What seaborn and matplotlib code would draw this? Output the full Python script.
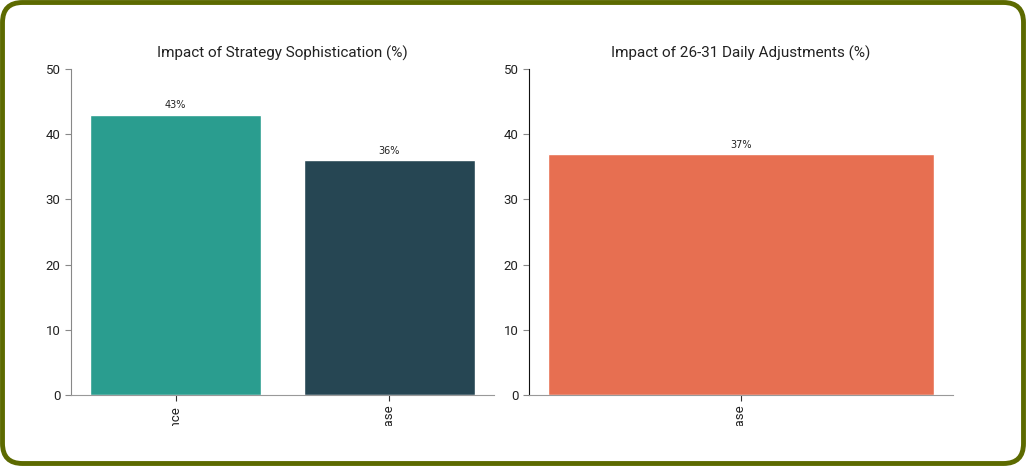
import matplotlib
matplotlib.use("Agg")
import matplotlib.pyplot as plt
import seaborn as sns
import pandas as pd
from matplotlib.patches import FancyBboxPatch
from matplotlib.transforms import Bbox

# data
soph_labels = ["Performance", "Revenue Increase"]
soph_values = [43, 36]
daily_labels = ["Revenue Increase"]
daily_values = [37]

title_left = "Impact of Strategy Sophistication (%)"
title_right = "Impact of 26-31 Daily Adjustments (%)"

sns.set_style("white")
plt.rcParams["font.family"] = ["Roboto", "DejaVu Sans"]

fig = plt.figure(figsize=(10.26, 4.66), dpi=100)
W, H = 1026, 466
ax1 = fig.add_axes([71 / W, 1 - 395 / H, 423 / W, 326 / H])
ax2 = fig.add_axes([529 / W, 1 - 395 / H, 424 / W, 326 / H])

df1 = pd.DataFrame({"cat": soph_labels, "val": soph_values})
df2 = pd.DataFrame({"cat": daily_labels, "val": daily_values})

sns.barplot(data=df1, x="cat", y="val", hue="cat", palette=["#2a9d8f", "#264653"],
            width=0.8, legend=False, ax=ax1, saturation=1)
sns.barplot(data=df2, x="cat", y="val", hue="cat", palette=["#e76f51"],
            width=0.8, legend=False, ax=ax2, saturation=1)

# tick labels are cut off near the bottom, like in the original
clip = Bbox.from_extents(0, 40, W, H)
for ax, title, vals in [(ax1, title_left, soph_values), (ax2, title_right, daily_values)]:
    n = len(vals)
    pad = 0.05 * (n - 0.2)
    ax.set_xlim(-0.4 - pad, n - 0.6 + pad)
    ax.set_ylim(0, 50)
    ax.set_yticks([0, 10, 20, 30, 40, 50])
    ax.set_title(title, fontsize=11, color="#222222", pad=8)
    ax.set_xlabel("")
    ax.set_ylabel("")
    for p in ax.patches:
        h = p.get_height()
        ax.annotate(f"{h:.0f}%", (p.get_x() + p.get_width() / 2, h),
                    xytext=(0, 3), textcoords="offset points", ha="center", va="bottom",
                    fontsize=7, family="DejaVu Sans", color="#222222")
    for s in ["top", "right"]:
        ax.spines[s].set_visible(False)
    ax.spines["bottom"].set_color("#999999")
    ax.tick_params(axis="y", left=True, length=4, width=0.8, color="#888888",
                   labelsize=9.5, labelcolor="#222222")
    ax.tick_params(axis="x", bottom=True, length=4, width=0.8, color="#333333",
                   labelsize=9.5, labelcolor="#222222")
    for lab in ax.get_xticklabels():
        lab.set_rotation(90)
        lab.set_clip_on(True)
        lab.set_clip_box(clip)

ax1.spines["left"].set_color("#888888")
ax2.spines["left"].set_color("#111111")

border = FancyBboxPatch((2.5 / W, 2.5 / H), 1 - 5 / W, 1 - 5 / H,
                        boxstyle=f"round,pad=0,rounding_size={20 / W}",
                        transform=fig.transFigure, fill=False,
                        edgecolor="#5c6a00", linewidth=3.5, mutation_aspect=W / H)
fig.patches.append(border)

fig.savefig("out.png", dpi=100)
